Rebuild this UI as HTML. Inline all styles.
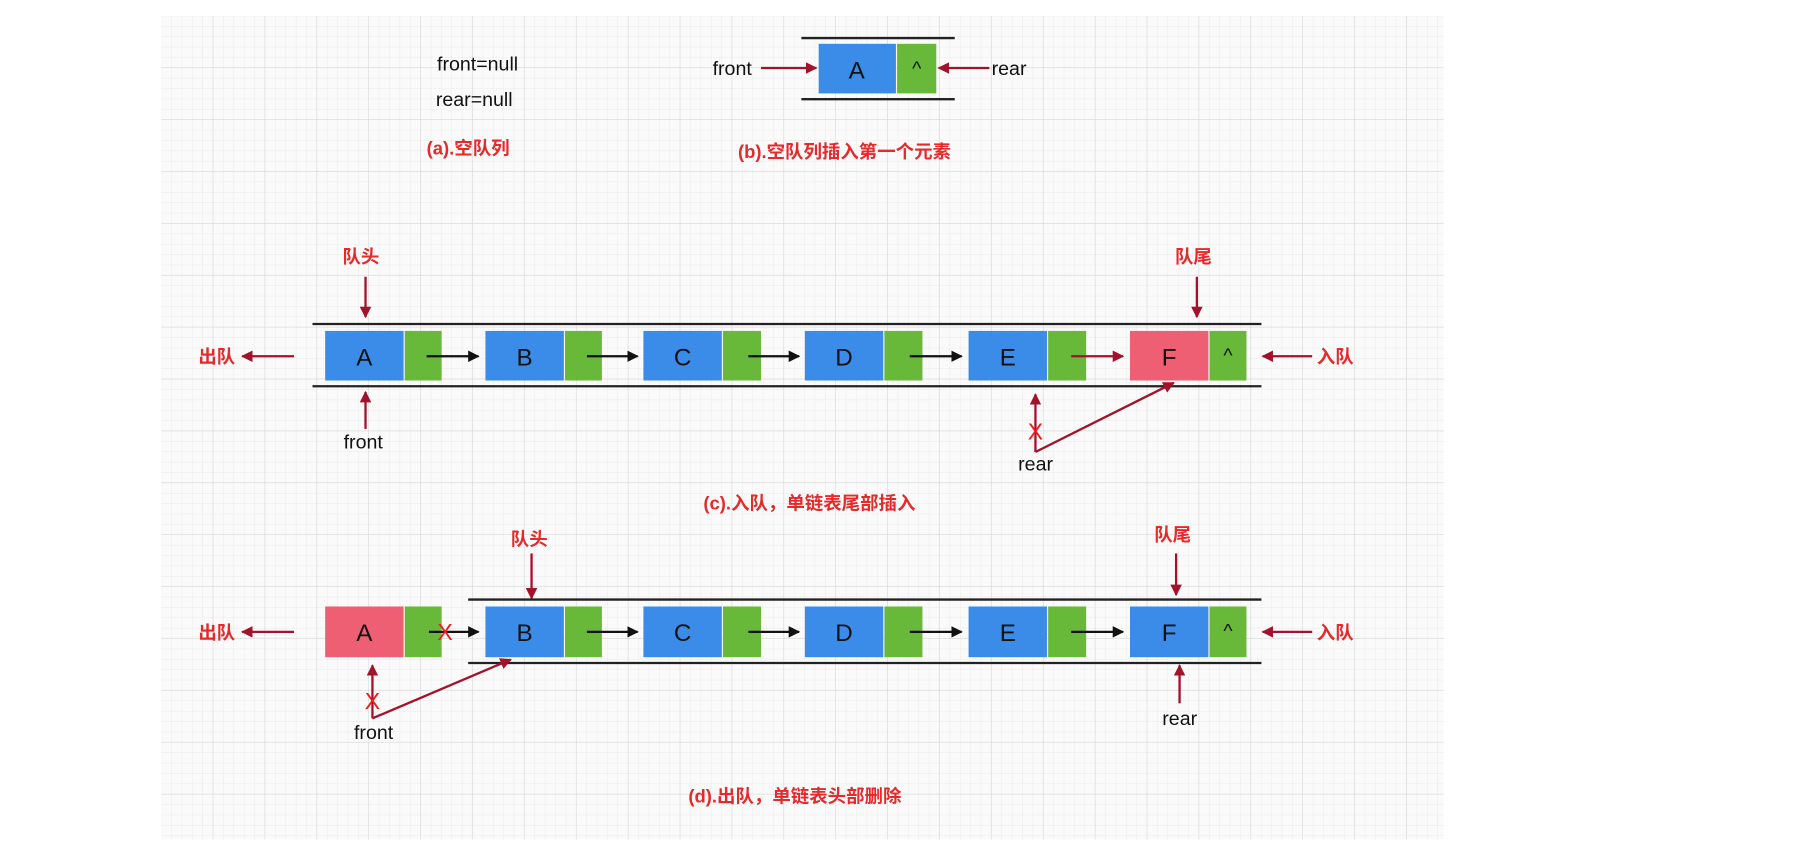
<!DOCTYPE html>
<html><head><meta charset="utf-8"><style>
html,body{margin:0;padding:0;background:#fff;width:1808px;height:859px;overflow:hidden}
svg{display:block}
text{font-family:"Liberation Sans","Noto Sans CJK SC",sans-serif}
.cn{fill:#e52a2a;font-size:16px;font-weight:bold}
.t{fill:#111;font-size:17px}
.L{fill:#111;font-size:21px;text-anchor:middle}
</style></head><body>
<svg width="1808" height="859" viewBox="0 0 1568 745" preserveAspectRatio="none" xmlns="http://www.w3.org/2000/svg">
<defs>
<pattern id="mi" width="9" height="9" patternUnits="userSpaceOnUse" x="140" y="14"><path d="M9 0V9M0 9H9" stroke="#ebebeb" stroke-width="0.8" fill="none"/></pattern>
<pattern id="ma" width="45" height="45" patternUnits="userSpaceOnUse" x="140" y="14"><path d="M45 0V45M0 45H45" stroke="#d8d8d8" stroke-width="1" fill="none"/></pattern>
<marker id="r" markerWidth="10" markerHeight="10" refX="9" refY="5" orient="auto" markerUnits="userSpaceOnUse"><path d="M0,0 L10,5 L0,10 Z" fill="#a3122b"/></marker>
<marker id="b" markerWidth="10" markerHeight="10" refX="9" refY="5" orient="auto" markerUnits="userSpaceOnUse"><path d="M0,0 L10,5 L0,10 Z" fill="#111"/></marker>
</defs>
<rect x="140" y="14" width="1112" height="714" fill="#fafafa"/>
<rect x="140" y="14" width="1112" height="714" fill="url(#mi)"/>
<rect x="140" y="14" width="1112" height="714" fill="url(#ma)"/>

<!-- (a) -->
<text class="t" x="379" y="61">front=null</text>
<text class="t" x="378" y="92">rear=null</text>
<text class="cn" x="370" y="134">(a).空队列</text>

<!-- (b) -->
<line x1="695" y1="33" x2="828" y2="33" stroke="#222" stroke-width="2"/>
<line x1="695" y1="86" x2="828" y2="86" stroke="#222" stroke-width="2"/>
<rect x="710" y="38" width="67" height="43" fill="#3a8ce8"/>
<rect x="778" y="38" width="34" height="43" fill="#68b83a"/>
<text class="L" x="743" y="68">A</text>
<text class="L" x="795" y="65" style="font-size:17px">^</text>
<text class="t" x="618" y="65">front</text>
<line x1="660" y1="59" x2="708" y2="59" stroke="#a3122b" stroke-width="2" marker-end="url(#r)"/>
<line x1="858" y1="59" x2="814" y2="59" stroke="#a3122b" stroke-width="2" marker-end="url(#r)"/>
<text class="t" x="860" y="65">rear</text>
<text class="cn" x="640" y="137">(b).空队列插入第一个元素</text>

<!-- (c) -->
<text class="cn" x="297" y="228">队头</text>
<line x1="317" y1="240" x2="317" y2="275" stroke="#a3122b" stroke-width="2" marker-end="url(#r)"/>
<text class="cn" x="1019" y="228">队尾</text>
<line x1="1038" y1="240" x2="1038" y2="275" stroke="#a3122b" stroke-width="2" marker-end="url(#r)"/>
<line x1="271" y1="281" x2="1094" y2="281" stroke="#222" stroke-width="2"/>
<line x1="271" y1="335" x2="1094" y2="335" stroke="#222" stroke-width="2"/>
<g>
<rect x="282" y="287" width="68" height="43" fill="#3a8ce8"/><rect x="351" y="287" width="32" height="43" fill="#68b83a"/><text class="L" x="316" y="317">A</text>
<rect x="421" y="287" width="68" height="43" fill="#3a8ce8"/><rect x="490" y="287" width="32" height="43" fill="#68b83a"/><text class="L" x="455" y="317">B</text>
<rect x="558" y="287" width="68" height="43" fill="#3a8ce8"/><rect x="627" y="287" width="33" height="43" fill="#68b83a"/><text class="L" x="592" y="317">C</text>
<rect x="698" y="287" width="68" height="43" fill="#3a8ce8"/><rect x="767" y="287" width="33" height="43" fill="#68b83a"/><text class="L" x="732" y="317">D</text>
<rect x="840" y="287" width="68" height="43" fill="#3a8ce8"/><rect x="909" y="287" width="33" height="43" fill="#68b83a"/><text class="L" x="874" y="317">E</text>
<rect x="980" y="287" width="68" height="43" fill="#ee5f73"/><rect x="1049" y="287" width="32" height="43" fill="#68b83a"/><text class="L" x="1014" y="317">F</text>
<text class="L" x="1065" y="314" style="font-size:17px">^</text>
</g>
<line x1="370" y1="309" x2="415" y2="309" stroke="#111" stroke-width="2" marker-end="url(#b)"/>
<line x1="509" y1="309" x2="553" y2="309" stroke="#111" stroke-width="2" marker-end="url(#b)"/>
<line x1="649" y1="309" x2="693" y2="309" stroke="#111" stroke-width="2" marker-end="url(#b)"/>
<line x1="789" y1="309" x2="834" y2="309" stroke="#111" stroke-width="2" marker-end="url(#b)"/>
<line x1="929" y1="309" x2="974" y2="309" stroke="#a3122b" stroke-width="2" marker-end="url(#r)"/>
<text class="cn" x="172" y="315">出队</text>
<line x1="255" y1="309" x2="210" y2="309" stroke="#a3122b" stroke-width="2" marker-end="url(#r)"/>
<line x1="1138" y1="309" x2="1095" y2="309" stroke="#a3122b" stroke-width="2" marker-end="url(#r)"/>
<text class="cn" x="1142" y="315">入队</text>
<line x1="317" y1="372" x2="317" y2="340" stroke="#a3122b" stroke-width="2" marker-end="url(#r)"/>
<text class="t" x="298" y="389">front</text>
<line x1="898" y1="392" x2="898" y2="342" stroke="#a3122b" stroke-width="2" marker-end="url(#r)"/>
<text x="898" y="381" style="fill:#f01c1c;font-size:20px;text-anchor:middle">X</text>
<line x1="898" y1="392" x2="1018" y2="332" stroke="#a3122b" stroke-width="2" marker-end="url(#r)"/>
<text class="t" x="883" y="408">rear</text>
<text class="cn" x="610" y="442">(c).入队，单链表尾部插入</text>

<!-- (d) -->
<text class="cn" x="443" y="473">队头</text>
<line x1="461" y1="480" x2="461" y2="519" stroke="#a3122b" stroke-width="2" marker-end="url(#r)"/>
<text class="cn" x="1001" y="469">队尾</text>
<line x1="1020" y1="480" x2="1020" y2="516" stroke="#a3122b" stroke-width="2" marker-end="url(#r)"/>
<line x1="406" y1="520" x2="1094" y2="520" stroke="#222" stroke-width="2"/>
<line x1="406" y1="575" x2="1094" y2="575" stroke="#222" stroke-width="2"/>
<g>
<rect x="282" y="526" width="68" height="44" fill="#ee5f73"/><rect x="351" y="526" width="32" height="44" fill="#68b83a"/><text class="L" x="316" y="556">A</text>
<rect x="421" y="526" width="68" height="44" fill="#3a8ce8"/><rect x="490" y="526" width="32" height="44" fill="#68b83a"/><text class="L" x="455" y="556">B</text>
<rect x="558" y="526" width="68" height="44" fill="#3a8ce8"/><rect x="627" y="526" width="33" height="44" fill="#68b83a"/><text class="L" x="592" y="556">C</text>
<rect x="698" y="526" width="68" height="44" fill="#3a8ce8"/><rect x="767" y="526" width="33" height="44" fill="#68b83a"/><text class="L" x="732" y="556">D</text>
<rect x="840" y="526" width="68" height="44" fill="#3a8ce8"/><rect x="909" y="526" width="33" height="44" fill="#68b83a"/><text class="L" x="874" y="556">E</text>
<rect x="980" y="526" width="68" height="44" fill="#3a8ce8"/><rect x="1049" y="526" width="32" height="44" fill="#68b83a"/><text class="L" x="1014" y="556">F</text>
<text class="L" x="1065" y="553" style="font-size:17px">^</text>
</g>
<line x1="372" y1="548" x2="415" y2="548" stroke="#111" stroke-width="2" marker-end="url(#b)"/>
<text x="386" y="555" style="fill:#f01c1c;font-size:20px;text-anchor:middle">X</text>
<line x1="509" y1="548" x2="553" y2="548" stroke="#111" stroke-width="2" marker-end="url(#b)"/>
<line x1="649" y1="548" x2="693" y2="548" stroke="#111" stroke-width="2" marker-end="url(#b)"/>
<line x1="789" y1="548" x2="834" y2="548" stroke="#111" stroke-width="2" marker-end="url(#b)"/>
<line x1="929" y1="548" x2="974" y2="548" stroke="#111" stroke-width="2" marker-end="url(#b)"/>
<text class="cn" x="172" y="554">出队</text>
<line x1="255" y1="548" x2="210" y2="548" stroke="#a3122b" stroke-width="2" marker-end="url(#r)"/>
<line x1="1138" y1="548" x2="1095" y2="548" stroke="#a3122b" stroke-width="2" marker-end="url(#r)"/>
<text class="cn" x="1142" y="554">入队</text>
<line x1="323" y1="623" x2="323" y2="577" stroke="#a3122b" stroke-width="2" marker-end="url(#r)"/>
<text x="323" y="615" style="fill:#f01c1c;font-size:20px;text-anchor:middle">X</text>
<line x1="323" y1="623" x2="443" y2="572" stroke="#a3122b" stroke-width="2" marker-end="url(#r)"/>
<text class="t" x="307" y="641">front</text>
<line x1="1023" y1="610" x2="1023" y2="577" stroke="#a3122b" stroke-width="2" marker-end="url(#r)"/>
<text class="t" x="1008" y="629">rear</text>
<text class="cn" x="597" y="696">(d).出队，单链表头部删除</text>

<text x="1405" y="762" style="fill:#888;font-size:15px">CSDN @阿森要自信</text>
</svg>
</body></html>
